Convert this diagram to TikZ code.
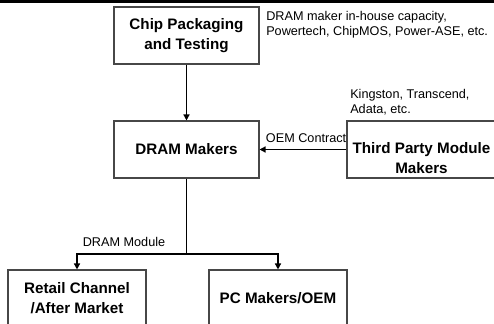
\documentclass[tikz,border=0pt]{standalone}
\usepackage{fontspec}
\setmainfont{Liberation Sans}
\usetikzlibrary{arrows.meta}
\begin{document}
\begin{tikzpicture}[x=0.75pt,y=-0.75pt,
  box/.style={draw=black!72,line width=0.8pt,inner sep=0pt,align=center,
    font=\fontsize{11.4}{15}\selectfont\bfseries},
  note/.style={inner sep=0pt,align=left,font=\fontsize{9.5}{11.25}\selectfont},
  link/.style={draw=black,line width=1pt},
  arr/.style={link,-{Triangle[length=4.5pt,width=4.5pt]}}]
\useasboundingbox (0,0) rectangle (494,324);
\clip (0,0) rectangle (494,324);
% heading rule
\fill[black] (0,0) rectangle (494,2.6);
% boxes
\node[box,minimum width=108.75pt,minimum height=42.75pt] (chip) at (186.5,35.5)
  {Chip Packaging\\and Testing};
\node[box,minimum width=108.75pt,minimum height=42.75pt] (dram) at (186.5,149.5)
  {DRAM Makers};
\node[box,minimum width=111.75pt,minimum height=42.75pt] (tpm) at (421.5,149.5) {};
\node[box,draw=none] (tpmtext) at (421.5,158.5) {Third Party Module\\Makers};
\node[box,minimum width=103.5pt,minimum height=42.75pt] (retail) at (77,298.5)
  {Retail Channel\\/After Market};
\node[box,minimum width=103.5pt,minimum height=42.75pt] (pc) at (278,298.5)
  {PC Makers/OEM};
% side notes
\node[note,anchor=west] (chipnote) at (266,24.5)
  {DRAM maker in-house capacity,\\Powertech, ChipMOS, Power-ASE, etc.};
\node[note,anchor=west] (tpmnote) at (350,102.7)
  {Kingston, Transcend,\\Adata, etc.};
\node[note,anchor=east] (oem) at (346.5,138.5) {OEM Contract};
\node[note] (module) at (124,242) {DRAM Module};
% connectors
\draw[arr] (chip) -- (dram);
\draw[arr] (tpm.west) -- (dram.east);
\coordinate (split) at (186.5,254);
\draw[link] (dram.south) -- (split);
\draw[arr] (split) -| (retail.north);
\draw[arr] (split) -| (pc.north);
\end{tikzpicture}
\end{document}
